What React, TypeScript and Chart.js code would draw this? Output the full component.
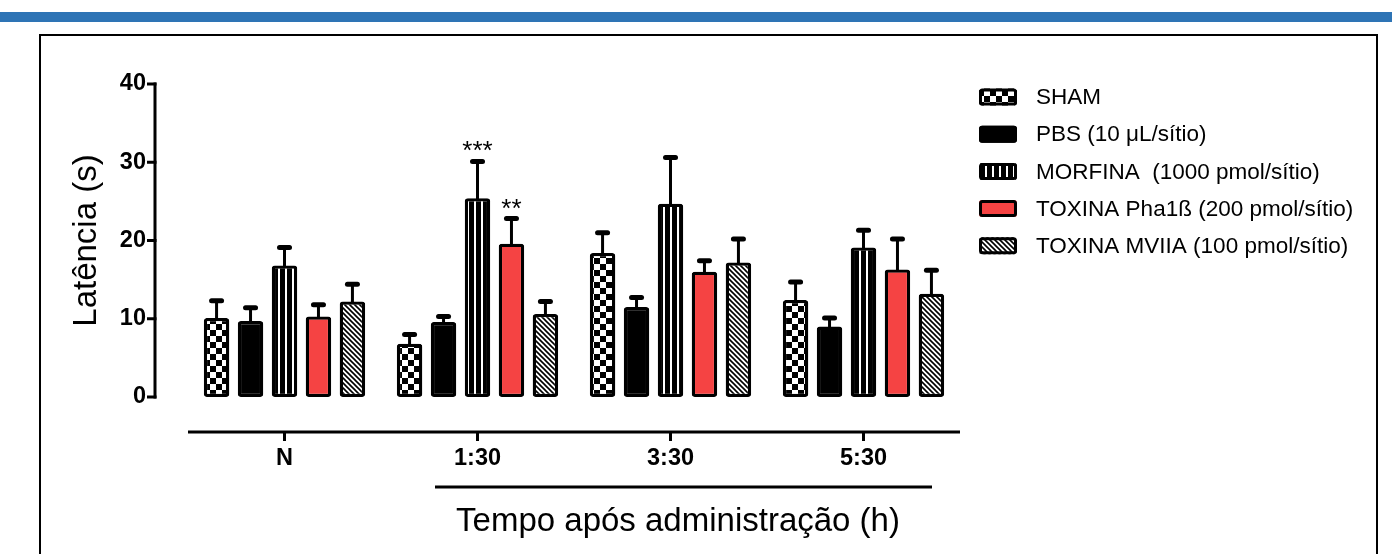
import React, { useEffect, useRef } from 'react';
import { Chart, registerables } from 'chart.js';

Chart.register(...registerables);

// ---------- data ----------
const categories = ['N', '1:30', '3:30', '5:30'];
const seriesNames = [
  'SHAM',
  'PBS (10 μL/sítio)',
  'MORFINA  (1000 pmol/sítio)',
  'TOXINA Pha1ß (200 pmol/sítio)',
  'TOXINA MVIIA (100 pmol/sítio)',
];
const shamMean = [10.1, 6.8, 18.4, 12.4];
const shamSem = [2.2, 1.2, 2.6, 2.3];
const pbsMean = [9.7, 9.6, 11.5, 9.0];
const pbsSem = [1.7, 0.7, 1.2, 1.1];
const morfinaMean = [16.8, 25.4, 24.7, 19.1];
const morfinaSem = [2.3, 4.7, 5.9, 2.2];
const pha1bMean = [10.3, 19.6, 16.0, 16.3];
const pha1bSem = [1.5, 3.2, 1.4, 3.9];
const mviiaMean = [12.2, 10.6, 17.2, 13.2];
const mviiaSem = [2.2, 1.6, 3.0, 3.0];
const morfinaSig = ['', '***', '', ''];
const pha1bSig = ['', '**', '', ''];
const noSig = ['', '', '', ''];
const yMin = 0;
const yMax = 40;
const yStep = 10;
const yTitle = 'Latência (s)';
const xTitle = 'Tempo após administração (h)';

const FONT = '"Liberation Sans", Arial, Helvetica, sans-serif';

function makePattern(kind: string): CanvasPattern | string {
  const c = document.createElement('canvas');
  const g = c.getContext('2d');
  if (!g) return '#000';
  if (kind === 'checker') {
    c.width = 12; c.height = 12;
    g.fillStyle = '#fff'; g.fillRect(0, 0, 12, 12);
    g.fillStyle = '#000'; g.fillRect(0, 0, 6, 6); g.fillRect(6, 6, 6, 6);
  } else if (kind === 'vstripe') {
    c.width = 7; c.height = 4;
    g.fillStyle = '#000'; g.fillRect(0, 0, 7, 4);
    g.fillStyle = '#fff'; g.fillRect(5, 0, 2, 4);
  } else if (kind === 'hatch') {
    c.width = 5; c.height = 5;
    g.fillStyle = '#fff'; g.fillRect(0, 0, 5, 5);
    g.strokeStyle = '#000'; g.lineWidth = 1.6;
    g.beginPath();
    g.moveTo(-1, -1); g.lineTo(6, 6);
    g.moveTo(4, -1); g.lineTo(6, 1);
    g.moveTo(-1, 4); g.lineTo(1, 6);
    g.stroke();
  }
  const p = g.createPattern(c, 'repeat');
  return p || '#000';
}

function roundRect(ctx: CanvasRenderingContext2D, x: number, y: number, w: number, h: number, r: number) {
  ctx.beginPath();
  ctx.moveTo(x + r, y);
  ctx.lineTo(x + w - r, y);
  ctx.quadraticCurveTo(x + w, y, x + w, y + r);
  ctx.lineTo(x + w, y + h - r);
  ctx.quadraticCurveTo(x + w, y + h, x + w - r, y + h);
  ctx.lineTo(x + r, y + h);
  ctx.quadraticCurveTo(x, y + h, x, y + h - r);
  ctx.lineTo(x, y + r);
  ctx.quadraticCurveTo(x, y, x + r, y);
  ctx.closePath();
}

const backgroundPlugin = {
  id: 'figureBackground',
  beforeDraw(chart: any) {
    const { ctx, width, height } = chart;
    ctx.save();
    ctx.fillStyle = '#fff';
    ctx.fillRect(0, 0, width, height);
    ctx.fillStyle = '#2E74B5';
    ctx.fillRect(0, 12, width, 10);
    ctx.strokeStyle = '#000';
    ctx.lineWidth = 2;
    ctx.strokeRect(40, 35, 1337, height + 10);
    ctx.restore();
  },
};

const errorBarPlugin = {
  id: 'errorBars',
  afterDatasetsDraw(chart: any) {
    const { ctx } = chart;
    const y = chart.scales.y;
    chart.data.datasets.forEach((ds: any, di: number) => {
      const meta = chart.getDatasetMeta(di);
      meta.data.forEach((bar: any, i: number) => {
        const top = y.getPixelForValue(ds.data[i] + ds.errors[i]);
        const x = bar.x;
        ctx.save();
        ctx.strokeStyle = '#000';
        ctx.lineWidth = 3;
        ctx.beginPath();
        ctx.moveTo(x, bar.y + 2);
        ctx.lineTo(x, top);
        ctx.stroke();
        ctx.lineWidth = 5;
        ctx.lineCap = 'round';
        ctx.beginPath();
        ctx.moveTo(x - 5, top);
        ctx.lineTo(x + 5, top);
        ctx.stroke();
        const s = ds.sig ? ds.sig[i] : '';
        if (s) {
          ctx.fillStyle = '#000';
          ctx.font = `26px ${FONT}`;
          ctx.textAlign = 'center';
          ctx.textBaseline = 'alphabetic';
          ctx.fillText(s, x, top - 2);
        }
        ctx.restore();
      });
    });
  },
};

const decorPlugin = {
  id: 'decor',
  afterDraw(chart: any) {
    const { ctx, chartArea } = chart;
    const x = chart.scales.x;
    const y = chart.scales.y;
    ctx.save();
    ctx.strokeStyle = '#000';
    ctx.fillStyle = '#000';
    // offset y axis
    const ax = chartArea.left - 33;
    const yTop = y.getPixelForValue(yMax);
    const yBot = y.getPixelForValue(yMin);
    ctx.lineWidth = 3;
    ctx.beginPath();
    ctx.moveTo(ax, yTop - 1.5);
    ctx.lineTo(ax, yBot + 1.5);
    ctx.stroke();
    for (let v = yMin; v <= yMax; v += yStep) {
      const py = y.getPixelForValue(v);
      ctx.beginPath();
      ctx.moveTo(ax - 8, py);
      ctx.lineTo(ax + 1.5, py);
      ctx.stroke();
    }
    // offset x axis
    const ay = chartArea.bottom + 35;
    ctx.beginPath();
    ctx.moveTo(chartArea.left, ay);
    ctx.lineTo(chartArea.right, ay);
    ctx.stroke();
    categories.forEach((_, i) => {
      const px = x.getPixelForValue(i);
      ctx.beginPath();
      ctx.moveTo(px, ay);
      ctx.lineTo(px, ay + 9);
      ctx.stroke();
    });
    // line over the x title
    ctx.beginPath();
    ctx.moveTo(435, 487);
    ctx.lineTo(932, 487);
    ctx.stroke();
    // x title
    ctx.font = `33px ${FONT}`;
    ctx.textAlign = 'center';
    ctx.textBaseline = 'middle';
    ctx.fillText(xTitle, 678, 522);

    // legend
    const lx = 979;
    const ly0 = 97;
    const step = 37.2;
    chart.data.datasets.forEach((ds: any, i: number) => {
      const cy = ly0 + i * step;
      roundRect(ctx, lx, cy - 8.5, 38, 17, 3);
      ctx.fillStyle = ds.backgroundColor;
      ctx.fill();
      ctx.lineWidth = 3;
      ctx.strokeStyle = '#000';
      roundRect(ctx, lx + 1.5, cy - 7, 35, 14, 2);
      ctx.stroke();
      ctx.fillStyle = '#000';
      ctx.font = `22.5px ${FONT}`;
      ctx.textAlign = 'left';
      ctx.textBaseline = 'middle';
      ctx.fillText(ds.label, 1036, cy + 1);
    });
    ctx.restore();
  },
};

export default function App() {
  const ref = useRef<HTMLCanvasElement | null>(null);

  useEffect(() => {
    if (!ref.current) return;
    Chart.defaults.font.family = FONT;
    const fills = [
      makePattern('checker'),
      '#000000',
      makePattern('vstripe'),
      '#F54343',
      makePattern('hatch'),
    ];
    const means = [shamMean, pbsMean, morfinaMean, pha1bMean, mviiaMean];
    const sems = [shamSem, pbsSem, morfinaSem, pha1bSem, mviiaSem];
    const sigs = [noSig, noSig, morfinaSig, pha1bSig, noSig];
    const chart = new Chart(ref.current, {
      type: 'bar',
      data: {
        labels: categories,
        datasets: seriesNames.map((name, i) => ({
          label: name,
          data: means[i],
          errors: sems[i],
          sig: sigs[i],
          backgroundColor: fills[i],
          borderColor: '#000',
          borderWidth: 3.3,
          borderRadius: 3,
          borderSkipped: false,
          categoryPercentage: 0.88,
          barPercentage: 0.75,
        })) as any,
      },
      options: {
        responsive: false,
        animation: false,
        events: [],
        layout: { padding: { left: 40, top: 84, right: 432, bottom: 77 } },
        plugins: {
          legend: { display: false },
          tooltip: { enabled: false },
          title: { display: false },
        },
        scales: {
          x: {
            grid: { display: false, drawTicks: false },
            border: { display: false },
            ticks: {
              color: '#000',
              font: { size: 23.5, weight: 'bold' },
              padding: 47,
              maxRotation: 0,
            },
            afterFit: (s: any) => { s.height = 80; },
          },
          y: {
            min: yMin,
            max: yMax,
            grid: { display: false, drawTicks: false },
            border: { display: false },
            ticks: {
              stepSize: yStep,
              color: '#000',
              font: { size: 23.5, weight: 'bold' },
              padding: 42,
            },
            title: {
              display: true,
              text: yTitle,
              color: '#000',
              font: { size: 33, weight: 'normal' },
              padding: { top: 27, bottom: 0 },
            },
            afterFit: (s: any) => { s.width = 148; },
          },
        },
      } as any,
      plugins: [backgroundPlugin, errorBarPlugin, decorPlugin],
    });
    return () => chart.destroy();
  }, []);

  return (
    <div style={{ position: 'absolute', left: 0, top: 0, width: 1392, height: 554 }}>
      <canvas ref={ref} width={1392} height={554} style={{ display: 'block', width: 1392, height: 554 }} />
    </div>
  );
}
